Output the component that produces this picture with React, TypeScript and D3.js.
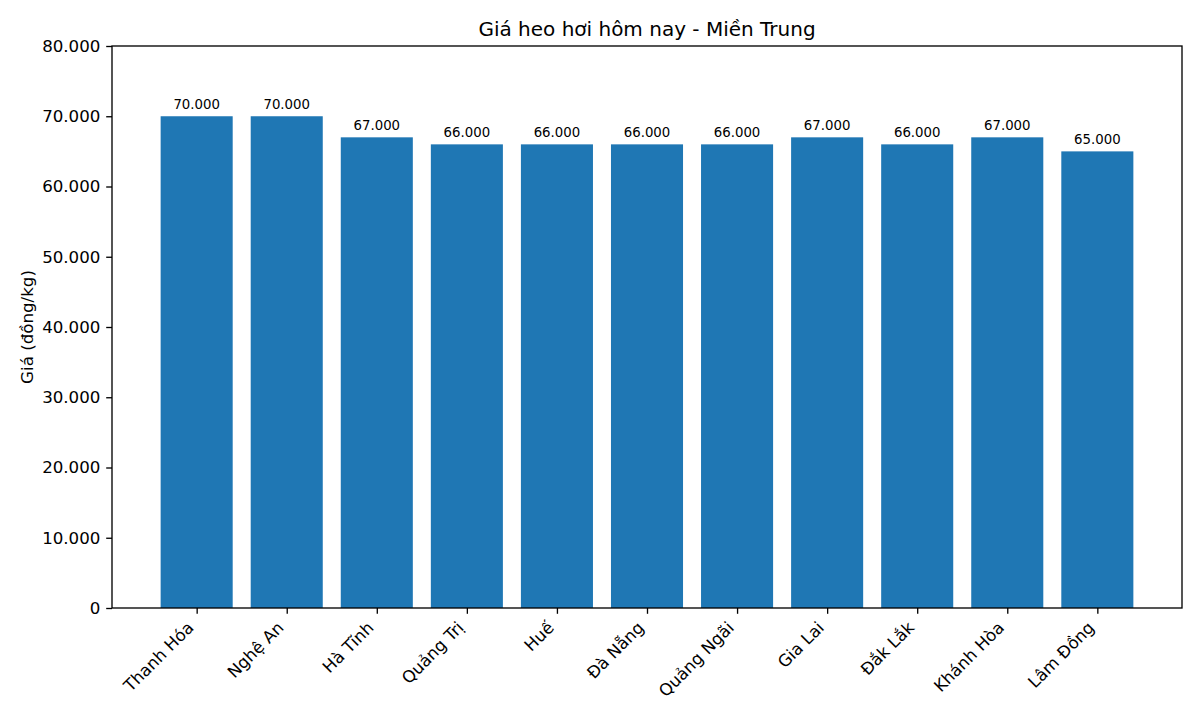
import React from "react";
import { select, scaleLinear, axisLeft, axisBottom, format, range } from "d3";

const provinces = [
  "Thanh Hóa",
  "Nghệ An",
  "Hà Tĩnh",
  "Quảng Trị",
  "Huế",
  "Đà Nẵng",
  "Quảng Ngãi",
  "Gia Lai",
  "Đắk Lắk",
  "Khánh Hòa",
  "Lâm Đồng",
];
const prices = [70000, 70000, 67000, 66000, 66000, 66000, 66000, 67000, 66000, 67000, 65000];
const yTicks = [0, 10000, 20000, 30000, 40000, 50000, 60000, 70000, 80000];

const title = "Giá heo hơi hôm nay - Miền Trung";
const yLabel = "Giá (đồng/kg)";

const width = 1200;
const height = 720;
const margin = { top: 46, right: 18, bottom: 112, left: 112 };
const FONT = "DejaVu Sans, sans-serif";

const fmt = (v: number) => (v === 0 ? "0" : format(",")(v).replace(/,/g, "."));

export default function App() {
  const svgRef = React.useRef<SVGSVGElement>(null);

  React.useEffect(() => {
    const svg = select(svgRef.current);
    svg.selectAll("*").remove();

    const x0 = margin.left;
    const x1 = width - margin.right;
    const y0 = height - margin.bottom;
    const y1 = margin.top;

    // matplotlib style: bars of width 0.8 with 5% margins
    const n = provinces.length;
    const pad = (n - 1 + 0.8) * 0.05;
    const x = scaleLinear()
      .domain([-0.4 - pad, n - 1 + 0.4 + pad])
      .range([x0, x1]);
    const y = scaleLinear().domain([0, 80000]).range([y0, y1]);

    const data = provinces.map((p, i) => ({ p, i, v: prices[i] }));

    svg
      .append("g")
      .selectAll("rect")
      .data(data)
      .join("rect")
      .attr("x", (d) => x(d.i - 0.4))
      .attr("width", (d) => x(d.i + 0.4) - x(d.i - 0.4))
      .attr("y", (d) => y(d.v))
      .attr("height", (d) => y0 - y(d.v))
      .attr("fill", "#1f77b4");

    svg
      .append("g")
      .selectAll("text")
      .data(data)
      .join("text")
      .attr("x", (d) => x(d.i))
      .attr("y", (d) => y(d.v) - 7.5)
      .attr("text-anchor", "middle")
      .attr("font-family", FONT)
      .attr("font-size", 13.3)
      .attr("fill", "#000")
      .text((d) => fmt(d.v));

    // y axis
    const gy = svg
      .append("g")
      .attr("transform", `translate(${x0},0)`)
      .call(
        axisLeft(y)
          .tickValues(yTicks)
          .tickFormat((d) => fmt(+d))
          .tickSizeInner(5.8)
          .tickSizeOuter(0)
          .tickPadding(5.8)
      );
    gy.select(".domain").remove();
    gy.selectAll("line").attr("stroke", "#000").attr("stroke-width", 1.33);
    gy.selectAll("text")
      .attr("font-family", FONT)
      .attr("font-size", 16.67)
      .attr("fill", "#000");

    // x axis
    const gx = svg
      .append("g")
      .attr("transform", `translate(0,${y0})`)
      .call(
        axisBottom(x)
          .tickValues(range(n))
          .tickFormat((d) => provinces[+d])
          .tickSizeInner(5.8)
          .tickSizeOuter(0)
      );
    gx.select(".domain").remove();
    gx.selectAll("line").attr("stroke", "#000").attr("stroke-width", 1.33);
    gx.selectAll("text")
      .attr("font-family", FONT)
      .attr("font-size", 16.67)
      .attr("fill", "#000")
      .attr("text-anchor", "end")
      .attr("dy", null)
      .attr("y", 0)
      .attr("transform", "translate(-2.5,20.7) rotate(-45)");

    // frame
    svg
      .append("rect")
      .attr("x", x0)
      .attr("y", y1)
      .attr("width", x1 - x0)
      .attr("height", y0 - y1)
      .attr("fill", "none")
      .attr("stroke", "#000")
      .attr("stroke-width", 1.33);

    svg
      .append("text")
      .attr("x", (x0 + x1) / 2)
      .attr("y", 36)
      .attr("text-anchor", "middle")
      .attr("font-family", FONT)
      .attr("font-size", 20)
      .attr("fill", "#000")
      .text(title);

    svg
      .append("text")
      .attr("transform", `translate(33,${(y0 + y1) / 2}) rotate(-90)`)
      .attr("text-anchor", "middle")
      .attr("font-family", FONT)
      .attr("font-size", 16.67)
      .attr("fill", "#000")
      .text(yLabel);

    return () => {
      svg.selectAll("*").remove();
    };
  }, []);

  return (
    <svg
      ref={svgRef}
      width={width}
      height={height}
      style={{ position: "absolute", left: 0, top: 0, background: "#fff" }}
    />
  );
}
